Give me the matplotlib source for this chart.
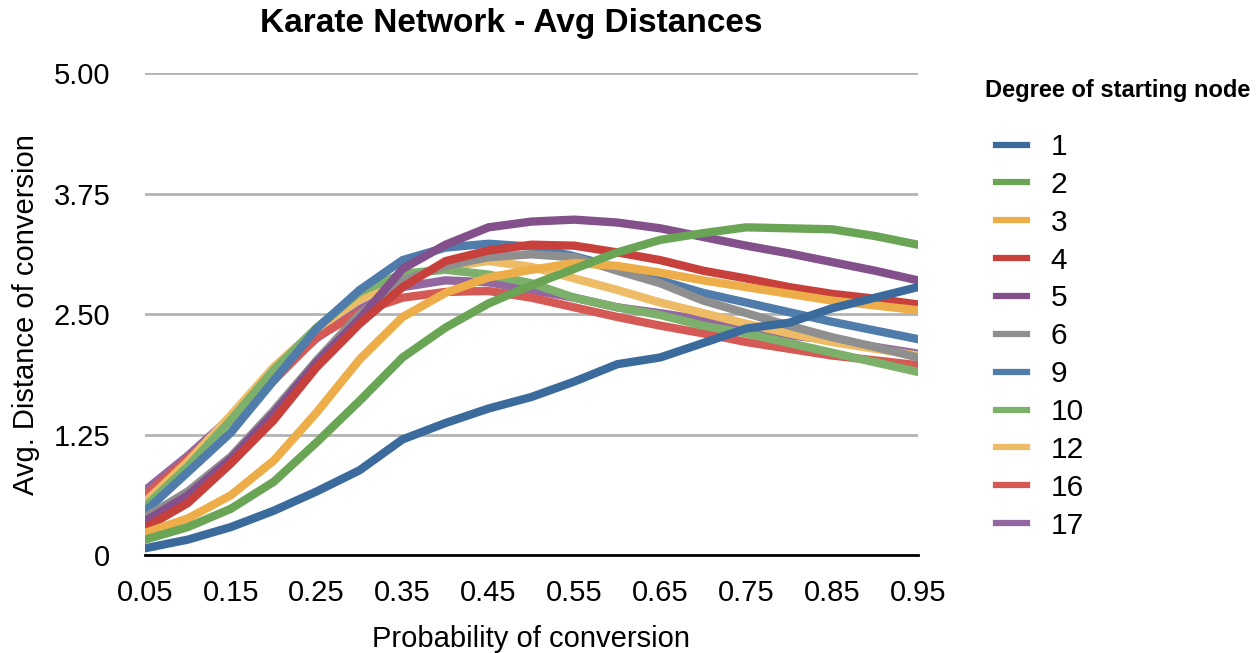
import matplotlib
matplotlib.use("Agg")
import matplotlib.pyplot as plt

plt.rcParams['font.family'] = ['Liberation Sans', 'DejaVu Sans']

# probability of conversion (x categories)
probs = [0.05, 0.10, 0.15, 0.20, 0.25, 0.30, 0.35, 0.40, 0.45, 0.50,
         0.55, 0.60, 0.65, 0.70, 0.75, 0.80, 0.85, 0.90, 0.95]
xtick_vals = [0.05, 0.15, 0.25, 0.35, 0.45, 0.55, 0.65, 0.75, 0.85, 0.95]
xtick_labels = ['0.05', '0.15', '0.25', '0.35', '0.45', '0.55', '0.65', '0.75', '0.85', '0.95']
ytick_vals = [0, 1.25, 2.5, 3.75, 5.0]
ytick_labels = ['0', '1.25', '2.50', '3.75', '5.00']

# avg distance of conversion, one list per degree of starting node
deg1 = [0.07, 0.16, 0.29, 0.46, 0.66, 0.88, 1.20, 1.37, 1.52, 1.64,
        1.80, 1.98, 2.05, 2.20, 2.35, 2.41, 2.56, 2.67, 2.78]
deg2 = [0.16, 0.29, 0.48, 0.76, 1.17, 1.60, 2.05, 2.36, 2.61, 2.80,
        2.97, 3.14, 3.27, 3.34, 3.40, 3.39, 3.38, 3.31, 3.22]
deg3 = [0.23, 0.38, 0.62, 0.98, 1.48, 2.03, 2.47, 2.72, 2.88, 2.96,
        3.03, 3.00, 2.93, 2.85, 2.78, 2.71, 2.64, 2.59, 2.54]
deg4 = [0.28, 0.54, 0.95, 1.40, 1.95, 2.40, 2.78, 3.05, 3.16, 3.22,
        3.21, 3.14, 3.06, 2.95, 2.87, 2.78, 2.71, 2.66, 2.60]
deg5 = [0.35, 0.62, 1.00, 1.47, 2.00, 2.45, 2.97, 3.22, 3.40, 3.46,
        3.48, 3.45, 3.39, 3.30, 3.21, 3.13, 3.04, 2.95, 2.85]
deg6 = [0.39, 0.66, 1.02, 1.50, 2.02, 2.50, 2.85, 3.00, 3.09, 3.12,
        3.09, 2.95, 2.82, 2.64, 2.51, 2.38, 2.26, 2.16, 2.05]
deg9 = [0.45, 0.86, 1.27, 1.81, 2.35, 2.75, 3.06, 3.19, 3.23, 3.20,
        3.10, 2.98, 2.85, 2.72, 2.62, 2.52, 2.42, 2.33, 2.24]
deg10 = [0.50, 0.92, 1.40, 1.92, 2.36, 2.73, 2.92, 2.96, 2.91, 2.82,
         2.67, 2.57, 2.49, 2.38, 2.30, 2.20, 2.10, 2.00, 1.90]
deg12 = [0.55, 0.97, 1.45, 1.95, 2.35, 2.65, 2.88, 2.99, 3.05, 2.99,
         2.87, 2.75, 2.62, 2.51, 2.40, 2.30, 2.21, 2.14, 2.07]
deg16 = [0.62, 1.00, 1.40, 1.81, 2.26, 2.52, 2.67, 2.73, 2.74, 2.67,
         2.57, 2.47, 2.38, 2.30, 2.21, 2.14, 2.07, 2.02, 1.97]
deg17 = [0.67, 1.03, 1.43, 1.85, 2.25, 2.55, 2.78, 2.85, 2.83, 2.75,
         2.67, 2.57, 2.51, 2.44, 2.35, 2.28, 2.23, 2.16, 2.09]

degrees = ['1', '2', '3', '4', '5', '6', '9', '10', '12', '16', '17']
series = [deg1, deg2, deg3, deg4, deg5, deg6, deg9, deg10, deg12, deg16, deg17]
colors = ['#3b6b9d', '#6aa556', '#edad48', '#c8403c', '#83508b', '#8e8f8e',
          '#4f7caa', '#7db06b', '#eebb66', '#d55a56', '#9367a0']

fig = plt.figure(figsize=(12.6, 6.53), dpi=100)
ax = fig.add_axes([0.115, 0.150, 0.6135, 0.738])

n = len(series)
for i, (lab, ys, col) in enumerate(zip(degrees, series, colors)):
    ax.plot(probs, ys, color=col, lw=6, label=lab, zorder=3 + n - i,
            solid_joinstyle='miter')

ax.set_xlim(0.05, 0.95)
ax.set_ylim(0, 5.0)
ax.set_xticks(xtick_vals)
ax.set_xticklabels(xtick_labels)
ax.set_yticks(ytick_vals)
ax.set_yticklabels(ytick_labels)
ax.tick_params(axis='both', length=0, labelsize=21)
ax.tick_params(axis='x', pad=17)
ax.tick_params(axis='y', pad=25)

ax.yaxis.grid(True, color='#b3b3b3', lw=2)
ax.set_axisbelow(True)
for s in ['top', 'right', 'left']:
    ax.spines[s].set_visible(False)
ax.spines['bottom'].set_color('black')
ax.spines['bottom'].set_linewidth(2)
ax.spines['bottom'].set_zorder(2)

ax.set_xlabel('Probability of conversion', fontsize=21, labelpad=13)
ax.set_ylabel('Avg. Distance of conversion', fontsize=21, labelpad=10)

fig.text(0.406, 0.964, 'Karate Network - Avg Distances', fontsize=24,
         fontweight='bold', ha='center', va='center')

fig.text(985 / 1260, 1 - 90 / 653, 'Degree of starting node', fontsize=17,
         fontweight='bold', ha='left', va='center')
leg = ax.legend(loc='upper left', bbox_to_anchor=(996 / 1260, 1 - 133 / 653),
                bbox_transform=fig.transFigure, frameon=False, fontsize=21.5,
                borderpad=0, borderaxespad=0, handlelength=1.05,
                handletextpad=0.78, labelspacing=0.33)
for h in leg.legend_handles:
    h.set_linewidth(4.5)

fig.savefig('out.png', dpi=100)
